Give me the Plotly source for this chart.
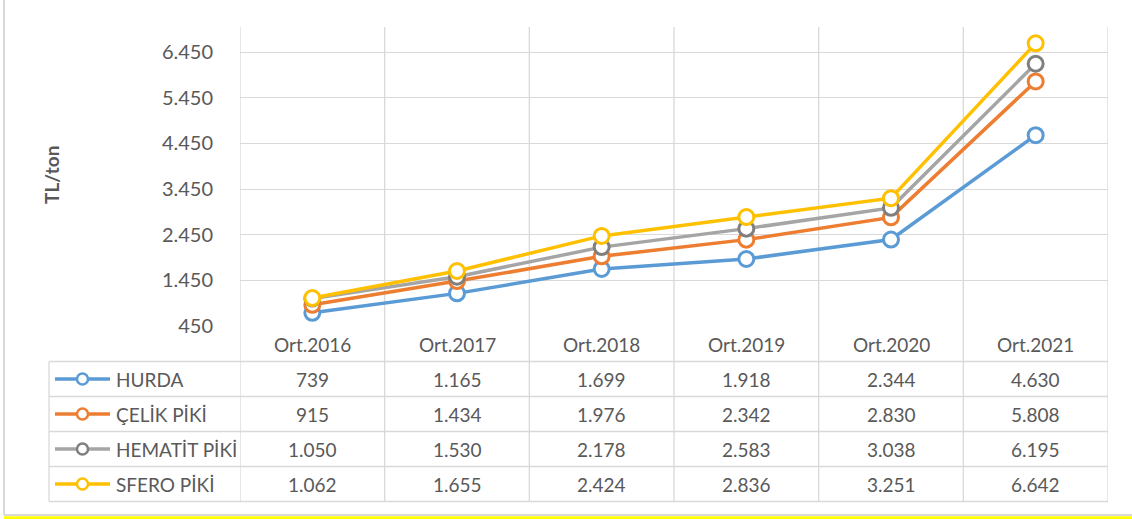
import plotly.graph_objects as go

categories = ["Ort.2016", "Ort.2017", "Ort.2018", "Ort.2019", "Ort.2020", "Ort.2021"]
series_names = ["HURDA", "ÇELİK PİKİ", "HEMATİT PİKİ", "SFERO PİKİ"]
hurda = [739, 1165, 1699, 1918, 2344, 4630]
celik_piki = [915, 1434, 1976, 2342, 2830, 5808]
hematit_piki = [1050, 1530, 2178, 2583, 3038, 6195]
sfero_piki = [1062, 1655, 2424, 2836, 3251, 6642]
y_ticks = [450, 1450, 2450, 3450, 4450, 5450, 6450]

series_values = [hurda, celik_piki, hematit_piki, sfero_piki]
line_colors = ["#5B9BD5", "#ED7D31", "#A5A5A5", "#FFC000"]
marker_colors = ["#5B9BD5", "#ED7D31", "#7F7F7F", "#FFC000"]

W, H = 1132, 519          # reference coordinate system
FIG_H = 530               # rendered height (capture is rescaled to 519)
FONT = "Lato, Open Sans, sans-serif"
TXT = "#595959"
GRID = "#D9D9D9"

PL, PR, PT, PB = 240, 1108, 27, 326
TBL_LEFT = 49
ROW_LINES = [361.5, 396.5, 431.5, 466.5, 501.5]


def px(x):
    return x / W


def py(y):
    return 1 - y / H


def fmt(v):
    return f"{v:,}".replace(",", ".")


fig = go.Figure()
for name, vals, lc, mc in zip(series_names, series_values, line_colors, marker_colors):
    fig.add_trace(go.Scatter(
        x=categories, y=vals, name=name, mode="lines+markers",
        line=dict(color=lc, width=3.5),
        marker=dict(symbol="circle", size=15, color="white", line=dict(color=mc, width=3)),
        showlegend=False, cliponaxis=False, hoverinfo="skip",
    ))

shapes = []
annotations = []

for i in range(len(categories) + 1):
    shapes.append(dict(type="line", xref="x", yref="paper", x0=i - 0.5, x1=i - 0.5,
                       y0=py(ROW_LINES[-1]), y1=py(PT), line=dict(color=GRID, width=1.3), layer="below"))
shapes.append(dict(type="line", xref="paper", yref="paper", x0=px(TBL_LEFT), x1=px(TBL_LEFT),
                   y0=py(ROW_LINES[0]), y1=py(ROW_LINES[-1]), line=dict(color=GRID, width=1.3)))
for yl in ROW_LINES:
    shapes.append(dict(type="line", xref="paper", yref="paper", x0=px(TBL_LEFT), x1=px(PR),
                       y0=py(yl), y1=py(yl), line=dict(color=GRID, width=1.3)))

for c in categories:
    annotations.append(dict(x=c, xref="x", y=py(344), yref="paper", text=c, showarrow=False,
                            font=dict(family=FONT, size=19, color=TXT), xanchor="center", yanchor="middle"))

for r, (name, vals, lc, mc) in enumerate(zip(series_names, series_values, line_colors, marker_colors)):
    yc = (ROW_LINES[r] + ROW_LINES[r + 1]) / 2
    for c, v in zip(categories, vals):
        annotations.append(dict(x=c, xref="x", y=py(yc), yref="paper", text=fmt(v), showarrow=False,
                                font=dict(family=FONT, size=19, color=TXT), xanchor="center", yanchor="middle"))
    annotations.append(dict(x=px(114), xref="paper", y=py(yc), yref="paper", text=name, showarrow=False,
                            font=dict(family=FONT, size=19, color=TXT), xanchor="left", yanchor="middle"))
    shapes.append(dict(type="line", xref="paper", yref="paper", x0=px(55), x1=px(110),
                       y0=py(yc), y1=py(yc), line=dict(color=lc, width=3.5)))
    rr = 5.5
    shapes.append(dict(type="circle", xref="paper", yref="paper", x0=px(82.5 - rr), x1=px(82.5 + rr),
                       y0=py(yc + rr), y1=py(yc - rr), fillcolor="white", line=dict(color=mc, width=2.5)))

shapes.append(dict(type="line", xref="paper", yref="paper", x0=px(4), x1=px(4), y0=py(0), y1=py(515),
                   line=dict(color="#D9D9D9", width=2)))
shapes.append(dict(type="line", xref="paper", yref="paper", x0=px(4), x1=1, y0=py(515), y1=py(515),
                   line=dict(color="#D9D9D9", width=2)))
shapes.append(dict(type="rect", xref="paper", yref="paper", x0=px(4), x1=1, y0=0, y1=py(516.3),
                   fillcolor="#FFFF00", line=dict(width=0)))

annotations.append(dict(x=px(52), xref="paper", y=py(175), yref="paper", text="<b>TL/ton</b>",
                        textangle=-90, showarrow=False, font=dict(family=FONT, size=19, color=TXT),
                        xanchor="center", yanchor="middle"))

fig.update_layout(
    width=W, height=FIG_H,
    margin=dict(l=0, r=0, t=0, b=0),
    paper_bgcolor="white", plot_bgcolor="white",
    separators=",.",
    shapes=shapes, annotations=annotations,
    hovermode=False,
    xaxis=dict(domain=[px(PL), px(PR)], type="category", categoryorder="array", categoryarray=categories,
               range=[-0.5, 5.5], showgrid=False, showticklabels=False, zeroline=False, showline=False,
               ticks=""),
    yaxis=dict(domain=[py(PB), py(PT)], range=[450, 7000], tickvals=y_ticks, tickformat=",d",
               showgrid=True, gridcolor=GRID, gridwidth=1.3, zeroline=False, showline=False,
               ticks="outside", ticklen=22, tickcolor="rgba(0,0,0,0)",
               tickfont=dict(family=FONT, size=20, color=TXT)),
    font=dict(family=FONT, color=TXT),
)

post = (
    "document.documentElement.style.margin='0';"
    "document.body.style.margin='0';"
)
fig.write_html("out.html", config={"displayModeBar": False}, post_script=post)
